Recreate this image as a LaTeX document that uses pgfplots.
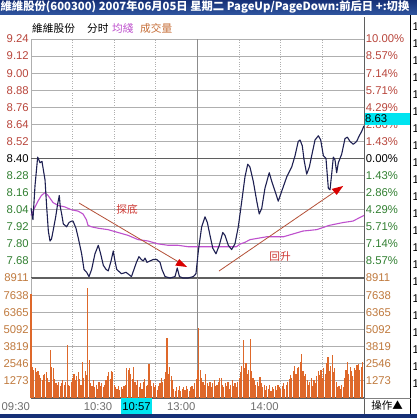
\documentclass[border=0pt]{standalone}
\usepackage{pgfplots}
\pgfplotsset{compat=1.18}
\usepackage{fontspec}
\setmainfont{Liberation Sans}
\newfontfamily\cjk{Noto Sans CJK SC}

\definecolor{titleblue}{RGB}{22,48,118}
\definecolor{titleblue2}{RGB}{48,86,160}
\definecolor{upred}{RGB}{185,70,60}
\definecolor{downgreen}{RGB}{50,128,50}
\definecolor{volbrown}{RGB}{192,122,62}
\definecolor{gridgray}{RGB}{175,175,175}
\definecolor{darkgrid}{RGB}{95,95,95}
\definecolor{priceline}{RGB}{30,32,82}
\definecolor{avgline}{RGB}{190,80,205}
\definecolor{volbar}{RGB}{222,104,42}
\definecolor{cursorcyan}{RGB}{0,228,240}
\definecolor{notered}{RGB}{205,55,50}
\definecolor{arrowline}{RGB}{180,80,55}
\definecolor{timegray}{RGB}{110,110,110}

\newcommand{\ticknum}{\fontsize{11.3}{12}\selectfont}

% minute index (0 = 09:30, 120 = 11:30/13:00, 240 = 15:00) and last price
\pgfplotstableread{
m p
0 8.05
1.4 7.97
2.9 8.21
4.8 8.41
6.5 8.37
7.9 8.38
10.1 8.25
11.3 8.06
12.5 7.89
13.7 7.82
14.8 7.835
15.9 7.89
17.8 7.99
19.2 8.08
20.4 8.14
21.1 8.06
22.1 8.01
23.3 7.94
25.7 7.92
27.4 7.95
29.3 7.96
30.3 7.96
32.4 7.91
34.1 7.84
36.5 7.73
38.2 7.62
40.1 7.60
41.8 7.57
43.7 7.62
46.1 7.73
48.5 7.79
50.2 7.73
52.1 7.65
54.1 7.62
55.7 7.61
57.7 7.68
59.3 7.75
60.5 7.68
61.8 7.62
65.2 7.59
68.5 7.60
72.4 7.57
74.2 7.62
76.0 7.67
77.8 7.71
79.5 7.69
80.9 7.68
82.2 7.70
83.6 7.67
85.8 7.68
88.1 7.69
90.6 7.69
93.0 7.67
94.4 7.62
96.6 7.57
100.2 7.56
103.8 7.57
105.4 7.63
107.0 7.57
109.5 7.56
113.2 7.56
117.0 7.57
118.9 7.59
120.6 7.75
123.0 7.92
125.4 7.99
127.1 7.95
129.0 7.86
131.0 7.77
133.3 7.73
135.7 7.79
138.2 7.88
139.8 7.86
142.2 7.79
144.6 7.76
147.0 7.80
149.4 7.92
151.9 8.10
154.2 8.27
156.2 8.36
157.8 8.34
160.2 8.24
162.7 8.10
164.5 8.01
166.3 8.05
168.6 8.19
171.7 8.30
173.5 8.24
175.9 8.17
178.2 8.10
180.7 8.17
184.3 8.27
187.9 8.34
190.3 8.42
192.6 8.52
193.9 8.53
195.5 8.49
196.8 8.39
198.7 8.29
200.6 8.34
202.3 8.42
204.7 8.53
207.1 8.56
208.8 8.53
210.7 8.42
212.6 8.40
214.3 8.19
215.5 8.18
216.7 8.29
217.9 8.41
219.1 8.39
220.3 8.30
221.5 8.37
223.9 8.43
226.3 8.54
228.0 8.55
229.9 8.52
232.3 8.50
234.7 8.52
236.6 8.56
238.3 8.59
240 8.63
}\pricedata

% running average price
\pgfplotstableread{
m a
0 8.00
2.5 8.05
5 8.10
7.5 8.14
10 8.16
12.3 8.14
15.9 8.09
19.5 8.07
24.3 8.06
29 8.04
34 8.03
37.5 8.01
39.9 7.97
41.1 7.93
43.5 7.92
48.3 7.91
55.5 7.90
62.7 7.88
69.9 7.86
77.1 7.83
84.3 7.82
91.5 7.80
98.7 7.79
105.9 7.79
113.1 7.78
120 7.78
126 7.78
135 7.78
148 7.78
151 7.80
154 7.81
158 7.83
170 7.85
182 7.85
189 7.87
196 7.89
206 7.90
215 7.93
225 7.95
232 7.96
238 7.99
240 8.00
}\avgdata

% volume per minute
\pgfplotstableread{
m v
0 7700
1 2300
2 2100
3 2250
4 1900
5 2000
6 1700
7 1500
8 1300
9 1700
10 1800
11 1900
12 1500
13 1200
14 3600
15 2300
16 2250
17 1400
18 1100
19 1000
20 1200
21 900
22 1100
23 1300
24 1000
25 1200
26 3950
27 1000
28 900
29 1200
30 1500
31 1800
32 1300
33 1600
34 1900
35 1400
36 1000
37 2650
38 1500
39 2000
40 1700
41 8200
42 2850
43 1100
44 900
45 1300
46 800
47 1000
48 700
49 1200
50 900
51 1100
52 800
53 1000
54 1300
55 1600
56 1900
57 1400
58 2000
59 1900
60 1000
61 800
62 700
63 900
64 600
65 800
66 700
67 900
68 1000
69 2200
70 2100
71 2200
72 1800
73 1400
74 2300
75 1200
76 1000
77 1300
78 800
79 1100
80 700
81 1200
82 1400
83 900
84 1000
85 2550
86 1300
87 900
88 1100
89 800
90 1000
91 600
92 900
93 1100
94 1500
95 1200
96 1400
97 1900
98 4450
99 1800
100 2300
101 1600
102 1300
103 700
104 500
105 800
106 600
107 900
108 500
109 700
110 800
111 600
112 900
113 700
114 500
115 800
116 900
117 700
118 1100
119 1400
120 2100
121 5200
122 2100
123 1500
124 1200
125 1000
126 1750
127 1100
128 900
129 1200
130 800
131 1100
132 1300
133 900
134 1000
135 1200
136 1500
137 1450
138 1000
139 800
140 1100
141 900
142 1200
143 700
144 1000
145 1300
146 900
147 1100
148 800
149 1200
150 1500
151 1900
152 2400
153 4300
154 2200
155 2600
156 1800
157 2100
158 4400
159 2000
160 1500
161 1300
162 1000
163 1200
164 900
165 1550
166 1100
167 800
168 1000
169 600
170 900
171 700
172 1000
173 500
174 800
175 700
176 900
177 600
178 1000
179 800
180 700
181 900
182 1100
183 700
184 1000
185 1200
186 1400
187 1700
188 1500
189 2000
190 2400
191 1800
192 2200
193 2300
194 2700
195 3300
196 2000
197 1600
198 1800
199 1300
200 1000
201 1200
202 1500
203 900
204 1300
205 1100
206 1600
207 2000
208 1700
209 2050
210 1500
211 2200
212 1800
213 2600
214 3050
215 2000
216 2400
217 3175
218 1900
219 2200
220 1200
221 800
222 900
223 700
224 1000
225 850
226 1500
227 2100
228 2675
229 1800
230 2300
231 2000
232 1600
233 2200
234 2100
235 2425
236 2550
237 2050
238 2300
239 2700
}\voldata

\begin{document}
\begin{tikzpicture}[x=1pt,y=1pt]
\useasboundingbox (0,0) rectangle (417,418);
\fill[white] (0,0) rectangle (417,418);

% window title bar and bottom strip
\shade[top color=titleblue, bottom color=titleblue2] (0,403) rectangle (417,418);
\fill[titleblue] (0,0) rectangle (417,4);
\node[anchor=west, inner sep=0pt, text=white] at (0.5,410.5)
  {\cjk\bfseries\fontsize{11.3}{12}\selectfont 維維股份(600300) 2007年06月05日 星期二 PageUp/PageDown:前后日 +:切换};

% header row
\node[anchor=west, inner sep=0pt] at (32,390) {\cjk\fontsize{10.7}{12}\selectfont 維維股份};
\node[anchor=west, inner sep=0pt] at (87,390) {\cjk\fontsize{10.7}{12}\selectfont 分时};
\node[anchor=west, inner sep=0pt, text=avgline] at (112,390) {\cjk\fontsize{10.7}{12}\selectfont 均綫};
\node[anchor=west, inner sep=0pt, text=volbrown!90!red] at (140,390) {\cjk\fontsize{10.7}{12}\selectfont 成交量};

% ---------------- price panel ----------------
\begin{axis}[
  at={(31pt,140pt)}, anchor=south west, scale only axis,
  width=333pt, height=239pt,
  xmin=0, xmax=240, ymin=7.56, ymax=9.24,
  axis line style={draw=none}, tick style={draw=none},
  xtick={30,60,90,150,180,210}, xticklabels={},
  ytick={7.68,7.80,7.92,8.04,8.16,8.28,8.52,8.64,8.76,8.88,9.00,9.12,9.24},
  yticklabels={},
  xmajorgrids, ymajorgrids,
  x grid style={gridgray, dotted, line width=0.9pt},
  y grid style={gridgray, line width=0.8pt},
  clip=false,
]
% session break and previous close
\draw[gridgray!80!black, line width=0.9pt] (axis cs:120,7.56) -- (axis cs:120,9.24);
\draw[gridgray, line width=0.9pt] (axis cs:0,7.56) -- (axis cs:0,9.24);
\draw[darkgrid, line width=1.6pt] (axis cs:0,8.40) -- (axis cs:240,8.40);
\draw[darkgrid, line width=1.8pt] (axis cs:0,7.56) -- (axis cs:240,7.56);

% price scale, left
\pgfplotsinvokeforeach{8.52,8.64,8.76,8.88,9.00,9.12,9.24}{
  \node[anchor=east, inner sep=0pt, text=upred] at (axis cs:-1.5,#1) {\ticknum #1};
}
\node[anchor=east, inner sep=0pt] at (axis cs:-1.5,8.40) {\ticknum 8.40};
\pgfplotsinvokeforeach{7.68,7.80,7.92,8.04,8.16,8.28}{
  \node[anchor=east, inner sep=0pt, text=downgreen] at (axis cs:-1.5,#1) {\ticknum #1};
}

% change scale, right
\node[anchor=west, inner sep=0pt, text=upred] at (axis cs:241.2,9.24) {\ticknum 10.00\%};
\node[anchor=west, inner sep=0pt, text=upred] at (axis cs:241.2,9.12) {\ticknum 8.57\%};
\node[anchor=west, inner sep=0pt, text=upred] at (axis cs:241.2,9.00) {\ticknum 7.14\%};
\node[anchor=west, inner sep=0pt, text=upred] at (axis cs:241.2,8.88) {\ticknum 5.71\%};
\node[anchor=west, inner sep=0pt, text=upred] at (axis cs:241.2,8.76) {\ticknum 4.29\%};
\node[anchor=west, inner sep=0pt, text=upred] at (axis cs:241.2,8.64) {\ticknum 2.86\%};
\node[anchor=west, inner sep=0pt, text=upred] at (axis cs:241.2,8.52) {\ticknum 1.43\%};
\node[anchor=west, inner sep=0pt] at (axis cs:241.2,8.40) {\ticknum 0.00\%};
\node[anchor=west, inner sep=0pt, text=downgreen] at (axis cs:241.2,8.28) {\ticknum 1.43\%};
\node[anchor=west, inner sep=0pt, text=downgreen] at (axis cs:241.2,8.16) {\ticknum 2.86\%};
\node[anchor=west, inner sep=0pt, text=downgreen] at (axis cs:241.2,8.04) {\ticknum 4.29\%};
\node[anchor=west, inner sep=0pt, text=downgreen] at (axis cs:241.2,7.92) {\ticknum 5.71\%};
\node[anchor=west, inner sep=0pt, text=downgreen] at (axis cs:241.2,7.80) {\ticknum 7.14\%};
\node[anchor=west, inner sep=0pt, text=downgreen] at (axis cs:241.2,7.68) {\ticknum 8.57\%};

\addplot[avgline, line width=1.1pt, line join=round] table[x=m, y=a] {\avgdata};
\addplot[priceline, line width=1.1pt, line join=round] table[x=m, y=p] {\pricedata};

% annotations
\draw[arrowline, line width=0.8pt] (axis cs:34.6,8.087) -- (axis cs:110,7.652);
\fill[red!85!black] (axis cs:112.6,7.637) -- ++(-12pt,1.5pt) -- ++(4pt,6.5pt) -- cycle;
\node[text=notered, inner sep=0pt] at (axis cs:69.2,8.045) {\cjk\fontsize{10.7}{12}\selectfont 探底};
\draw[arrowline, line width=0.8pt] (axis cs:135.5,7.609) -- (axis cs:222.5,8.190);
\fill[red!85!black] (axis cs:225,8.207) -- ++(-11.5pt,-3pt) -- ++(5pt,-6pt) -- cycle;
\node[text=notered, inner sep=0pt] at (axis cs:179.5,7.714) {\cjk\fontsize{10.7}{12}\selectfont 回升};
\end{axis}

% last price tag
\fill[cursorcyan] (364,293) rectangle (410,305);
\node[anchor=west, inner sep=0pt] at (365,299) {\ticknum 8.63};

% ---------------- volume panel ----------------
\begin{axis}[
  at={(31pt,20pt)}, anchor=south west, scale only axis,
  width=333pt, height=120pt,
  xmin=0, xmax=240, ymin=0, ymax=8911,
  axis line style={draw=none}, tick style={draw=none},
  xtick={30,60,90,150,180,210}, xticklabels={},
  ytick={1273,2546,3819,5092,6365,7638}, yticklabels={},
  xmajorgrids, ymajorgrids,
  x grid style={gridgray, dotted, line width=0.9pt},
  y grid style={gridgray, line width=0.8pt},
  clip=false,
]
\draw[gridgray!80!black, line width=0.9pt] (axis cs:120,0) -- (axis cs:120,8911);
\draw[gridgray, line width=0.9pt] (axis cs:0,0) -- (axis cs:0,8911);
\draw[darkgrid, line width=1.2pt] (axis cs:0,0) -- (axis cs:240,0);

\pgfplotsinvokeforeach{1273,2546,3819,5092,6365,7638,8911}{
  \node[anchor=east, inner sep=0pt, text=volbrown] at (axis cs:-1.5,#1) {\ticknum #1};
  \node[anchor=west, inner sep=0pt, text=volbrown] at (axis cs:241.2,#1) {\ticknum #1};
}

\addplot[ycomb, volbar, line width=1.15pt] table[x=m, y=v] {\voldata};

% time axis
\node[anchor=east, inner sep=0pt, text=timegray] at (axis cs:-0.6,-640) {\ticknum 09:30};
\node[anchor=east, inner sep=0pt, text=timegray] at (axis cs:58.6,-640) {\ticknum 10:30};
\node[anchor=east, inner sep=0pt, text=timegray] at (axis cs:118.6,-640) {\ticknum 13:00};
\node[anchor=east, inner sep=0pt, text=timegray] at (axis cs:178.6,-640) {\ticknum 14:00};
\end{axis}

% cursor time tag
\fill[cursorcyan] (121,4) rectangle (152,19.5);
\node[inner sep=0pt] at (136.5,11.5) {\ticknum 10:57};

% right frame and side column
\draw[darkgrid, line width=1pt] (364,4) -- (364,401);
\draw[black, line width=0.9pt] (410.5,4) -- (410.5,403);
\draw[gray, line width=0.6pt] (364,20) -- (410.5,20);
\node[inner sep=0pt] at (387,12) {\cjk\fontsize{10.5}{12}\selectfont 操作▲};
\foreach \k in {0,...,21}
  \node[anchor=west, inner sep=0pt] at (412.5,391-17*\k) {\ticknum 1};
\end{tikzpicture}
\end{document}
